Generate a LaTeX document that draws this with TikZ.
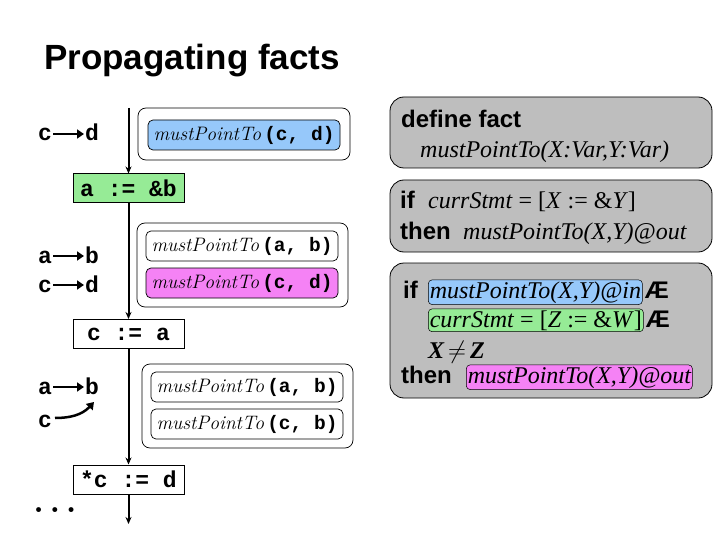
\documentclass[tikz,border=0pt]{standalone}
\usepackage{fontspec}
\setsansfont{Liberation Sans}
\newfontfamily\tms{Liberation Serif}
\setmonofont{Liberation Mono}
\usetikzlibrary{arrows.meta}
\definecolor{fblue}{RGB}{150,200,250}
\definecolor{fgreen}{RGB}{150,235,150}
\definecolor{fpink}{RGB}{245,130,245}
\definecolor{fgray}{RGB}{190,190,190}
\tikzset{
 stmt/.style={draw,line width=1pt,minimum width=111pt,minimum height=29pt,font=\fontsize{23}{23}\selectfont\ttfamily\bfseries,inner sep=0pt},
 outer/.style={draw,rounded corners=8pt,line width=0.7pt},
 fact/.style={draw,rounded corners=5pt,line width=0.7pt,minimum width=192pt,minimum height=30pt,inner sep=0pt,font=\fontsize{19.5}{19.5}\selectfont},
 rule/.style={draw,fill=fgray,rounded corners=14pt,line width=0.8pt},
 rtext/.style={anchor=base west,inner sep=0pt},
 hl/.style={draw,rounded corners=4pt,inner sep=1.5pt,line width=0.5pt},
 flow/.style={line width=2pt,-{Stealth[length=7pt,width=6pt]}},
 lbl/.style={font=\fontsize{23}{23}\selectfont\ttfamily\bfseries,inner sep=0pt,anchor=base west},
 ptr/.style={line width=2.5pt,-{Triangle[length=7pt,width=9pt]}},
 sfb/.style={font=\fontsize{24}{24}\selectfont\sffamily\bfseries},
 tmi/.style={font=\fontsize{24}{24}\selectfont\tms\itshape},
 tmr/.style={font=\fontsize{24}{24}\selectfont\tms},
}
\newcommand{\mpt}[1]{\textit{mustPointTo}\,{\ttfamily\bfseries #1}}
\begin{document}
\begin{tikzpicture}[x=1pt,y=-1pt]
\useasboundingbox (0,0) rectangle (720,540);
\node[anchor=base west,inner sep=0pt,font=\fontsize{35}{35}\selectfont\sffamily\bfseries] (title) at (44,70) {Propagating facts};
% statements
\node[stmt,fill=fgreen] (s1) at (128.5,188.5) {a := \&b};
\node[stmt] (s2) at (128.5,334) {c := a};
\node[stmt] (s3) at (128.5,479.5) {*c := d};
\coordinate (top) at (128.5,108);
\coordinate (bot) at (128.5,524);
\draw[flow] (top) -- (s1.north);
\draw[flow] (s1.south) -- (s2.north);
\draw[flow] (s2.south) -- (s3.north);
\draw[flow] (s3.south) -- (bot);
% facts
\node[outer,minimum width=212pt,minimum height=52pt] (o1) at (244,134) {};
\node[fact,fill=fblue] (f1) at (244,135) {\mpt{(c, d)}};
\node[outer,minimum width=211pt,minimum height=84pt] (o2) at (242.5,265) {};
\node[fact] (f2) at (242,246) {\mpt{(a, b)}};
\node[fact,fill=fpink] (f3) at (242,283) {\mpt{(c, d)}};
\node[outer,minimum width=211pt,minimum height=84pt] (o3) at (247.5,406) {};
\node[fact] (f4) at (247,387) {\mpt{(a, b)}};
\node[fact] (f5) at (247,424) {\mpt{(c, b)}};
% left labels
\node[lbl] (c1) at (38,141) {c};
\node[lbl] (d1) at (85,141) {d};
\draw[ptr] (53,134) -- (84,134);
\node[lbl] (a2) at (38,263) {a};
\node[lbl] (b2) at (85,263) {b};
\draw[ptr] (53,256) -- (84,256);
\node[lbl] (c3) at (38,292) {c};
\node[lbl] (d3) at (85,292) {d};
\draw[ptr] (53,285) -- (84,285);
\node[lbl] (a4) at (38,394) {a};
\node[lbl] (b4) at (85,394) {b};
\draw[ptr] (53,387) -- (84,387);
\node[lbl] (c5) at (38,427) {c};
\draw[line width=2.5pt,-{Triangle[length=7pt,width=9pt]}] (55,418) .. controls (70,418) and (82,415) .. (94,402);
\node[inner sep=0pt,font=\fontsize{34}{34}\selectfont\bfseries] (dots) at (55,510) {.\,.\,.};
% rules
\node[rule,minimum width=322pt,minimum height=71pt] (r1) at (551,132.5) {};
\node[rtext,sfb] (r1a) at (401,128) {define fact};
\node[rtext,tmi] (r1b) at (420,158) {mustPointTo(X:Var,Y:Var)};
\node[rule,minimum width=322pt,minimum height=72pt] (r2) at (551,216) {};
\node[rtext,sfb] (r2a) at (400,208) {if};
\node[rtext,tmr] (r2b) at (428,208) {\textit{currStmt} = [\textit{X} := \&\textit{Y}]};
\node[rtext,sfb] (r2c) at (400,240) {then};
\node[rtext,tmi] (r2d) at (463,240) {mustPointTo(X,Y)@out};
\node[rule,minimum width=322pt,minimum height=135pt] (r3) at (551,330.5) {};
\node[rtext,sfb] (r3a) at (403,298) {if};
\node[hl,fill=fblue,anchor=base west,tmi] (r3b) at (428,298) {mustPointTo(X,Y)@in};
\node[rtext,sfb,xshift=2pt] (ae1) at (r3b.base east) {Æ};
\node[hl,fill=fgreen,anchor=base west,tmr] (r3c) at (428,327) {\textit{currStmt} = [\textit{Z} := \&\textit{W}]};
\node[rtext,sfb,xshift=2pt] (ae2) at (r3c.base east) {Æ};
\node[rtext,font=\fontsize{24}{24}\selectfont\tms\itshape\bfseries] (r3d) at (428,358) {X\,$\neq$\,Z};
\node[rtext,sfb] (r3e) at (401,383) {then};
\node[hl,fill=fpink,anchor=base west,tmi] (r3f) at (466,383) {mustPointTo(X,Y)@out};
\end{tikzpicture}
\end{document}
